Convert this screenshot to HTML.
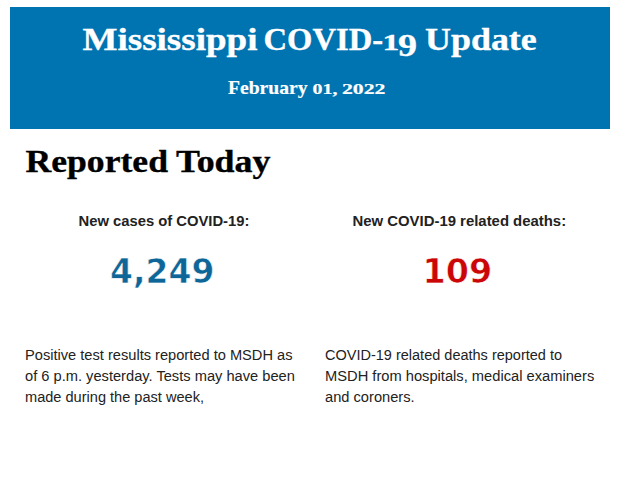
<!DOCTYPE html>
<html lang="en">
<head>
<meta charset="utf-8">
<title>Mississippi COVID-19 Update</title>
<style>
html,body{margin:0;padding:0;background:#fff;}
body{width:620px;height:483px;overflow:hidden;position:relative;font-family:"Liberation Sans",Arial,Helvetica,sans-serif;color:#222;}
.banner{position:absolute;left:10px;top:7px;width:600px;height:122px;background:#0073b1;}
h1,h3,p{margin:0;padding:0;font-weight:normal;}
.ln{position:absolute;left:0;top:0;font-size:0;line-height:0;white-space:nowrap;}
.t{display:inline-block;width:0;vertical-align:top;white-space:nowrap;transform-origin:0 0;line-height:1;}
.s{font-family:"Liberation Serif",Georgia,"Times New Roman",serif;font-weight:bold;}
.a{font-family:"Liberation Sans",Arial,Helvetica,sans-serif;}
.b{font-family:"Liberation Sans",Arial,Helvetica,sans-serif;font-weight:bold;}
.n{font-family:"DejaVu Sans",Tahoma,Verdana,sans-serif;font-weight:bold;}
.w{color:#fff;}
.k{color:#000;}
.g{color:#222;}
</style>
</head>
<body>
<div class="banner"></div>
<h1 class="ln"><span class="t s w" style="font-size:32.5px;transform:translate(82.5px,23px) scale(1.1396,1);-webkit-text-stroke:0.35px;">Mississippi</span> <span class="t s w" style="font-size:32.5px;transform:translate(263.5px,23px) scale(1.0043,1);-webkit-text-stroke:0.35px;">COVID-</span><span class="t s w" style="font-size:24px;transform:translate(382.5px,30px) scale(1.4007,1);-webkit-text-stroke:0.35px;">1</span><span class="t s w" style="font-size:32.5px;transform:translate(398px,29px) scale(1.1693,1);-webkit-text-stroke:0.35px;">9</span> <span class="t s w" style="font-size:32.5px;transform:translate(425px,23px) scale(1.105,1);-webkit-text-stroke:0.35px;">Update</span></h1>
<h3 class="ln"><span class="t s w" style="font-size:19.5px;transform:translate(228px,78px) scale(1.0065,1);-webkit-text-stroke:0.2px;">February</span> <span class="t s w" style="font-size:15px;transform:translate(312.5px,82px) scale(1.3272,1);-webkit-text-stroke:0.2px;">01,</span> <span class="t s w" style="font-size:15px;transform:translate(342px,82px) scale(1.4488,1);-webkit-text-stroke:0.2px;">2022</span></h3>
<h1 class="ln"><span class="t s k" style="font-size:32.5px;transform:translate(25.5px,145px) scale(1.0964,1);-webkit-text-stroke:0.35px;">Reported</span> <span class="t s k" style="font-size:32.5px;transform:translate(176px,145px) scale(1.1046,1);-webkit-text-stroke:0.35px;">Today</span></h1>
<p class="ln"><span class="t b g" style="font-size:15px;transform:translate(78.5px,213px) scale(0.9854,1);">New cases of COVID-19:</span></p>
<p class="ln"><span class="t n" style="font-size:34.3px;transform:translate(110px,254px) scale(0.9617,1);color:#0e6698;-webkit-text-stroke:0.6px #fff;">4,249</span></p>
<p class="ln"><span class="t a g" style="font-size:14.67px;transform:translate(25px,348px) scale(0.9982,1);">Positive test results reported to MSDH as</span> <span class="t a g" style="font-size:14.67px;transform:translate(25px,369px) scale(0.9998,1);">of 6 p.m. yesterday. Tests may have been</span> <span class="t a g" style="font-size:14.67px;transform:translate(25px,390px) scale(0.9943,1);">made during the past week,</span></p>
<p class="ln"><span class="t b g" style="font-size:15px;transform:translate(352.5px,213px) scale(0.9932,1);">New COVID-19 related deaths:</span></p>
<p class="ln"><span class="t n" style="font-size:34.5px;transform:translate(422.5px,254px) scale(0.9692,1);color:#cb0606;-webkit-text-stroke:0.6px #fff;">109</span></p>
<p class="ln"><span class="t a g" style="font-size:14.67px;transform:translate(325px,348px) scale(0.9897,1);">COVID-19 related deaths reported to</span> <span class="t a g" style="font-size:14.67px;transform:translate(325px,369px) scale(1.0018,1);">MSDH from hospitals, medical examiners</span> <span class="t a g" style="font-size:14.67px;transform:translate(325px,390px) scale(1.0002,1);">and coroners.</span></p>
</body>
</html>
